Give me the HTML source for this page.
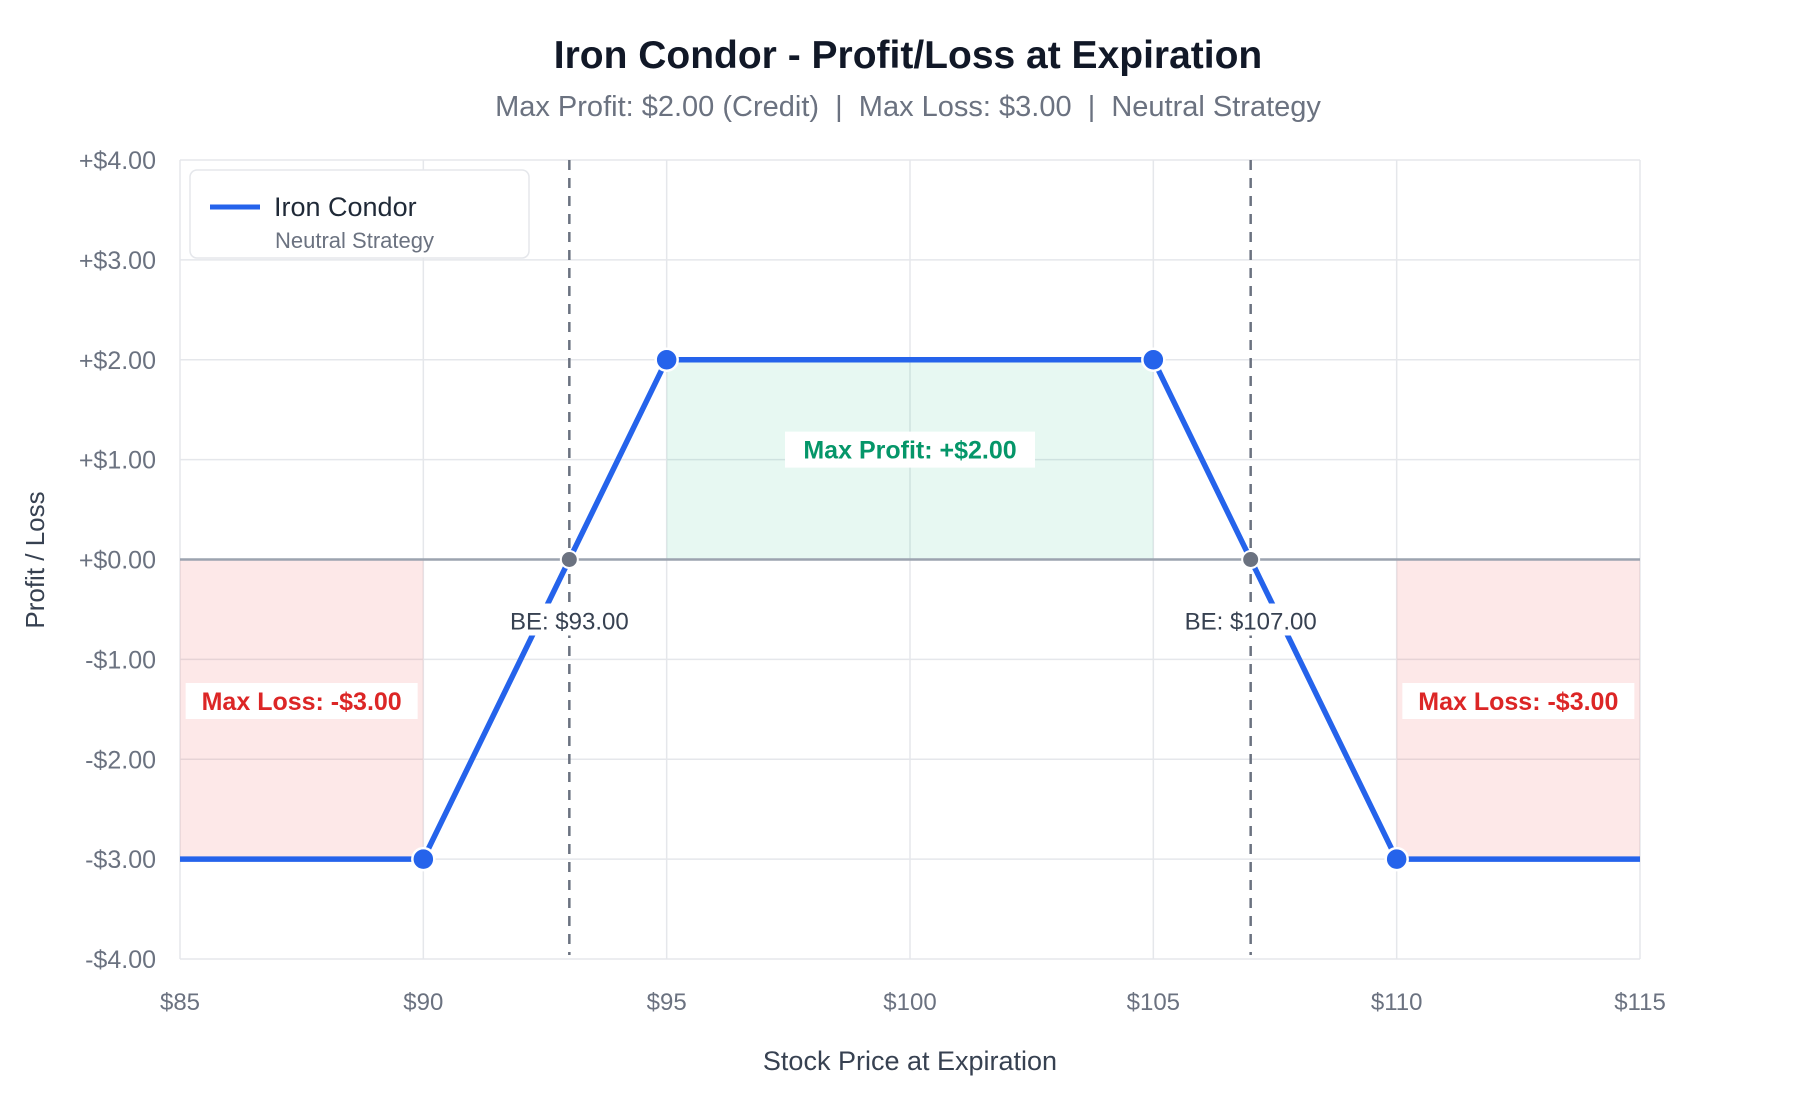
<!DOCTYPE html>
<html><head><meta charset="utf-8">
<style>
html,body{margin:0;padding:0;background:#fff;}
svg{display:block;font-family:"Liberation Sans",sans-serif;}
</style></head>
<body>
<svg id="chart" width="1800" height="1100" viewBox="0 0 1800 1100">
<text x="908" y="68" text-anchor="middle" font-size="39" font-weight="bold" fill="#111827">Iron Condor - Profit/Loss at Expiration</text>
<text x="908" y="116" text-anchor="middle" font-size="29" fill="#6b7280">Max Profit: $2.00 (Credit)&#160; |&#160; Max Loss: $3.00&#160; |&#160; Neutral Strategy</text>
<g id="grid"></g>
<g id="zones"></g>
<g id="axes"></g>
<g id="series"></g>
<g id="labels"></g>
<text x="910" y="1070" text-anchor="middle" font-size="27" fill="#374151">Stock Price at Expiration</text>
<text transform="translate(44,560) rotate(-90)" text-anchor="middle" font-size="26" fill="#374151">Profit / Loss</text>
<g>
<rect x="190" y="170" width="339" height="88" rx="7" fill="#fff" stroke="#e5e7eb" stroke-width="1.5"/>
<line x1="210" y1="207" x2="260" y2="207" stroke="#2563eb" stroke-width="5"/>
<text x="274" y="216" font-size="27" fill="#1f2937">Iron Condor</text>
<text x="275" y="248" font-size="22" fill="#6b7280">Neutral Strategy</text>
</g>
</svg>
<script>
const prices = [85, 90, 95, 105, 110, 115];
const pnl = [-3, -3, 2, 2, -3, -3];
const markerIdx = [1, 2, 3, 4];
const breakevens = [93, 107];
const beLabels = ["BE: $93.00", "BE: $107.00"];
const xTicks = [85, 90, 95, 100, 105, 110, 115];
const xTickLabels = ["$85", "$90", "$95", "$100", "$105", "$110", "$115"];
const yTicks = [4, 3, 2, 1, 0, -1, -2, -3, -4];
const yTickLabels = ["+$4.00", "+$3.00", "+$2.00", "+$1.00", "+$0.00", "-$1.00", "-$2.00", "-$3.00", "-$4.00"];
const maxProfit = 2;
const maxLoss = -3;

const L = 180, R = 1640, T = 160, B = 959;
const xMin = 85, xMax = 115, yMin = -4, yMax = 4;
const X = v => L + (v - xMin) / (xMax - xMin) * (R - L);
const Y = v => B - (v - yMin) / (yMax - yMin) * (B - T);
const NS = "http://www.w3.org/2000/svg";
function mk(tag, attrs, parent) {
  const e = document.createElementNS(NS, tag);
  for (const k in attrs) e.setAttribute(k, attrs[k]);
  parent.appendChild(e);
  return e;
}
const grid = document.getElementById("grid");
const zones = document.getElementById("zones");
const axes = document.getElementById("axes");
const series = document.getElementById("series");
const labels = document.getElementById("labels");

xTicks.forEach((t, i) => {
  const g = mk("line", {x1: X(t), x2: X(t), y1: T, y2: B, stroke: "#e5e7eb", "stroke-width": 1.5}, grid);
  
  
  const tx = mk("text", {x: X(t), y: 1010, "text-anchor": "middle", "font-size": 24, fill: "#6b7280"}, axes);
  tx.textContent = xTickLabels[i];
  
  
});
yTicks.forEach((t, i) => {
  const g = mk("line", {x1: L, x2: R, y1: Y(t), y2: Y(t), stroke: "#e5e7eb", "stroke-width": 1.5}, grid);
  
  
  const tx = mk("text", {x: 156, y: Y(t) + 9, "text-anchor": "end", "font-size": 25, fill: "#6b7280"}, axes);
  tx.textContent = yTickLabels[i];
  
  
});

const z1 = mk("rect", {x: X(prices[2]), y: Y(maxProfit), width: X(prices[3]) - X(prices[2]), height: Y(0) - Y(maxProfit), fill: "rgba(16,185,129,0.10)"}, zones);


const z2 = mk("rect", {x: X(prices[0]), y: Y(0), width: X(prices[1]) - X(prices[0]), height: Y(maxLoss) - Y(0), fill: "rgba(239,68,68,0.12)"}, zones);


const z3 = mk("rect", {x: X(prices[4]), y: Y(0), width: X(prices[5]) - X(prices[4]), height: Y(maxLoss) - Y(0), fill: "rgba(239,68,68,0.12)"}, zones);



const zl = mk("line", {x1: L, x2: R, y1: Y(0), y2: Y(0), stroke: "#9ca3af", "stroke-width": 2.5}, axes);



breakevens.forEach(b => {
  const d = mk("line", {x1: X(b), x2: X(b), y1: T, y2: 955, stroke: "#6b7280", "stroke-width": 2.5, "stroke-dasharray": "10,8"}, axes);
  
  
});

const pts = prices.map((p, i) => X(p) + "," + Y(pnl[i])).join(" ");
const pl = mk("polyline", {points: pts, fill: "none", stroke: "#2563eb", "stroke-width": 5.5, "stroke-linejoin": "round"}, series);


markerIdx.forEach(i => {
  const c = mk("circle", {cx: X(prices[i]), cy: Y(pnl[i]), r: 11, fill: "#2563eb", stroke: "#fff", "stroke-width": 2.5}, series);
  
  
});
breakevens.forEach((b, i) => {
  const c = mk("circle", {cx: X(b), cy: Y(0), r: 8.5, fill: "#6b7280", stroke: "#fff", "stroke-width": 2}, series);
  
  
  const bg = mk("rect", {x: X(b) - 72, y: Y(0) + 44, width: 144, height: 32, fill: "#fff"}, labels);
  
  
  const t = mk("text", {x: X(b), y: Y(0) + 70, "text-anchor": "middle", "font-size": 24, fill: "#374151"}, labels);
  t.textContent = beLabels[i];
  
  
});

function note(cx, cy, w, txt, color, name) {
  const r = mk("rect", {x: cx - w / 2, y: cy - 18, width: w, height: 36, fill: "#fff"}, labels);
  
  
  const t = mk("text", {x: cx, y: cy + 9, "text-anchor": "middle", "font-size": 25, "font-weight": "bold", fill: color}, labels);
  t.textContent = txt;
  
  
}
note((X(prices[2]) + X(prices[3])) / 2, (Y(maxProfit) + Y(0)) / 2 - 10, 250, "Max Profit: +$2.00", "#059669", "max-profit-label");
note((X(prices[0]) + X(prices[1])) / 2, 701, 232, "Max Loss: -$3.00", "#dc2626", "max-loss-label-left");
note((X(prices[4]) + X(prices[5])) / 2, 701, 232, "Max Loss: -$3.00", "#dc2626", "max-loss-label-right");
</script>
</body></html>
